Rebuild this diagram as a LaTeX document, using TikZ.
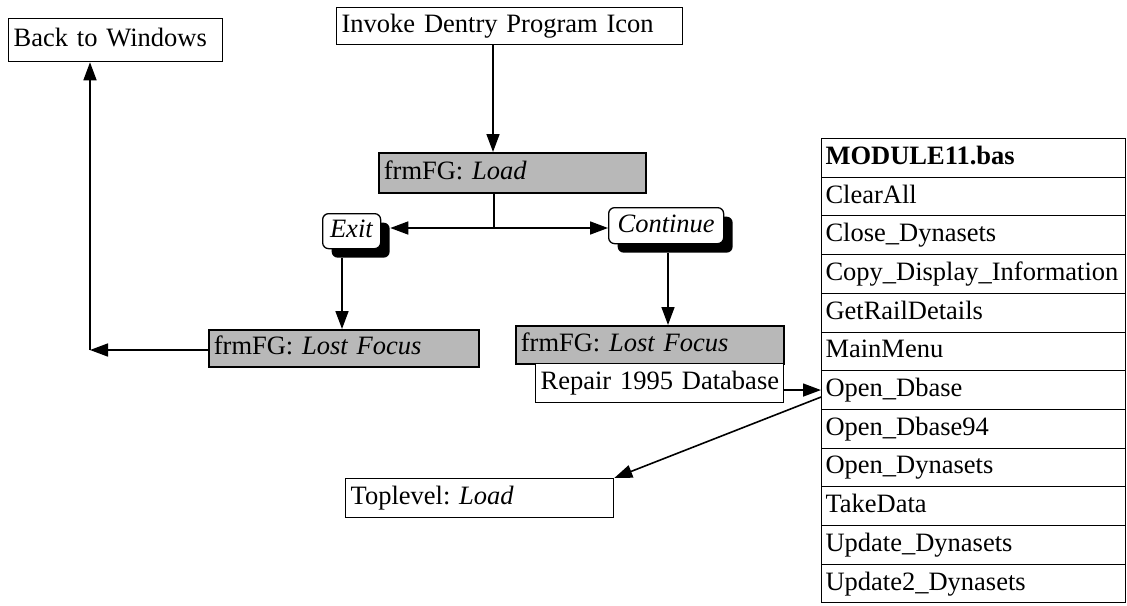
\documentclass[tikz,border=0pt]{standalone}
\usepackage{fontspec}
\setmainfont{Liberation Serif}
\usetikzlibrary{arrows.meta,shadows,calc}
\begin{document}
\frenchspacing
\begin{tikzpicture}[x=1pt,y=-1pt,
  every node/.style={font=\fontsize{26.5}{30}\selectfont\frenchspacing},
  box/.style={draw, line width=1.3pt, anchor=north west, inner xsep=5pt, inner ysep=0pt,
              text height=19pt, text depth=6pt, align=left, fill=white},
  grey/.style={box, fill=black!28, line width=1.7pt},
  choice/.style={draw, line width=1.3pt, rounded corners=6pt, fill=white, anchor=north west,
                 inner sep=0pt, text height=19pt, text depth=6pt,
                 drop shadow={shadow xshift=9pt, shadow yshift=-9pt, fill=black, opacity=1}},
  row/.style={draw, line width=1pt, anchor=north west, minimum height=38.7pt,
              inner xsep=4pt, inner ysep=0pt, text width=296pt,
              text height=19pt, text depth=6pt, align=left},
  arr/.style={line width=1.6pt, -{Triangle[length=18pt,width=13pt]}},
  link/.style={line width=1.6pt}]
\useasboundingbox (0,0) rectangle (1127,605);

% start and exit
\node[box, text width=204pt, minimum height=43pt] (back) at (8,18) {\mbox{Back to Windows}};
\node[box, text width=336pt, minimum height=37pt] (invoke) at (336,7) {\mbox{Invoke Dentry Program Icon}};

% form events
\node[grey, text width=257pt, minimum height=40pt] (load) at (378,152) {frmFG: \textit{Load}};
\node[choice, minimum width=58pt, minimum height=35pt] (exit) at (322,213) {\textit{Exit}};
\node[choice, minimum width=115pt, minimum height=36pt] (continue) at (608,207) {\textit{Continue}};
\node[grey, text width=260pt, minimum height=37pt] (lf1) at (208,329) {\mbox{frmFG: \textit{Lost Focus}}};
\node[grey, text width=258pt, minimum height=38pt] (lf2) at (515,325) {\mbox{frmFG: \textit{Lost Focus}}};
\node[box, text width=238pt, minimum height=39pt] (repair) at (535,363) {\mbox{Repair 1995 Database}};
\node[box, text width=258pt, minimum height=39pt] (toplevel) at (345,478) {\mbox{Toplevel: \textit{Load}}};

% module procedure list
\foreach \t [count=\i] in {\textbf{MODULE11.bas}, ClearAll, Close\_Dynasets,
    Copy\_Display\_Information, GetRailDetails, MainMenu, Open\_Dbase, Open\_Dbase94,
    Open\_Dynasets, TakeData, Update\_Dynasets, Update2\_Dynasets}
  \node[row] (r\i) at (821,{138+(\i-1)*38.7}) {\mbox{\t}};

% connectors
\coordinate (xa) at (493,0);
\draw[arr] (invoke.south -| xa) -- (load.north -| xa);
\coordinate (j) at (494,228);
\draw[link] (load.south -| j) -- (j);
\draw[arr] (j) -- ([xshift=9pt]exit.east |- j);
\draw[arr] (j) -- (continue.west |- j);
\coordinate (xe) at (342,0);
\draw[arr] ([yshift=-9pt]exit.south -| xe) -- (lf1.north -| xe);
\coordinate (xc) at (668,0);
\draw[arr] ([yshift=-9pt]continue.south -| xc) -- (lf2.north -| xc);
\coordinate (corner) at (90,350);
\draw[arr] (lf1.west |- corner) -- (corner);
\draw[arr] (corner) -- (back.south -| corner);
\draw[arr] (repair.east |- r7.west) -- (r7.west);
\draw[arr] ([yshift=-7pt]r7.west) -- (toplevel.north east);
\end{tikzpicture}
\end{document}
